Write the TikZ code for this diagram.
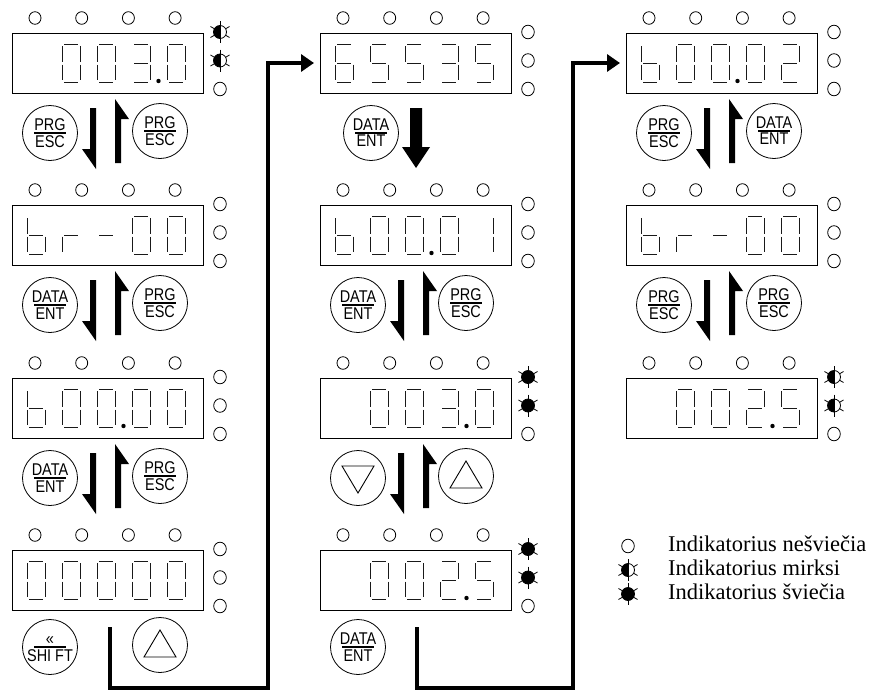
\documentclass[tikz,border=0pt]{standalone}
\usepackage{fontspec}
\setmainfont{Liberation Serif}
\setsansfont{Liberation Sans}
\usepackage{graphicx}
\usetikzlibrary{arrows.meta,positioning}

\tikzset{
  disp/.style={draw,line width=1pt,minimum width=191pt,minimum height=60pt,inner sep=0pt,outer sep=0pt},
  segline/.style={line width=1pt,black!90},
  ind/.style={line width=0.8pt},
  ray/.style={line width=0.8pt},
  btn/.style={circle,draw,line width=0.8pt,minimum size=55pt,inner sep=0pt},
  keytxt/.style={font=\sffamily\fontsize{17}{17}\selectfont,inner sep=0.6pt},
  keybar/.style={line width=1.2pt},
  tri/.style={line width=0.9pt},
  link/.style={line width=4.5pt,line join=miter,-{Triangle[length=13pt,width=17pt]},shorten >=6pt},
  legtxt/.style={font=\fontsize{22.5}{24}\selectfont,inner sep=0pt},
}

% seven segments of one digit (18 x 38)
\def\sega{(2,0) -- (16,0)}
\def\segb{(18,2) -- (18,17.5)}
\def\segc{(18,20.5) -- (18,36)}
\def\segd{(2,38) -- (16,38)}
\def\sege{(0,20.5) -- (0,36)}
\def\segf{(0,2) -- (0,17.5)}
\def\segg{(2,19) -- (16,19)}
\def\segn{(0,0)}
\expandafter\def\csname ss0\endcsname{a,b,c,d,e,f}
\expandafter\def\csname ss1\endcsname{b,c}
\expandafter\def\csname ss2\endcsname{a,b,d,e,g}
\expandafter\def\csname ss3\endcsname{a,b,c,d,g}
\expandafter\def\csname ss5\endcsname{a,c,d,f,g}
\expandafter\def\csname ss6\endcsname{a,c,d,e,f,g}
\expandafter\def\csname ssb\endcsname{c,d,e,f,g}
\expandafter\def\csname ssr\endcsname{e,g}
\expandafter\def\csname ssm\endcsname{g}
\expandafter\def\csname ssx\endcsname{n}

\newcommand\digitat[3]{%
  \begin{scope}[shift={(#1,#2)}]
    \expandafter\let\expandafter\seglist\csname ss#3\endcsname
    \foreach \s in \seglist {%
      \expandafter\let\expandafter\cur\csname seg\s\endcsname
      \draw[segline] \cur;}
  \end{scope}}

% indicator: 0 off, 1 blinking, 2 on
\newcommand\ledrays[2]{%
  \draw[ray] (#1,#2-11) -- (#1,#2+11);
  \foreach \a in {30,150,210,330}
    \draw[ray] (#1,#2) ++(\a:6.5) -- ++(\a:4.5);}
\newcommand\led[3]{%
  \ifcase#3\relax
    \draw[ind] (#1,#2) ellipse[x radius=6.3,y radius=6.8];
  \or
    \ledrays{#1}{#2}%
    \fill (#1,#2+6.5) arc[start angle=90,end angle=270,radius=6.5] -- cycle;
    \draw[ind] (#1,#2) circle[radius=6.5];
  \or
    \ledrays{#1}{#2}%
    \filldraw[ind] (#1,#2) circle[radius=6.5];
  \fi}

% display: name, X, Y, digits, dot after digit, indicators
\newcommand\panel[6]{%
  \node[disp] (#1) at (#2+95.5,#3+30) {};
  \foreach \i in {0,...,3}
    \draw[ind] (#2+23+46.7*\i,#3-15) ellipse[x radius=6,y radius=6.3];
  \foreach \ch [count=\i from 0] in {#4}
    {\digitat{#2+15+35*\i}{#3+11}{\ch}}
  \ifnum#5>0 \fill (#2+15+35*#5-8.5,#3+48) circle[radius=2.2]; \fi
  \foreach \st [count=\j from 0] in {#6}
    {\led{#2+208}{#3-1+28.5*\j}{\st}}}

% keys
\newcommand\key[5]{%
  \node[btn] (#1) at (#2,#3) {};
  \node[keytxt,anchor=south] at ([yshift=1.5pt]#1.center) {\scalebox{0.85}[1]{#4}};
  \draw[keybar] ([xshift=-16pt]#1.center) -- ([xshift=16pt]#1.center);
  \node[keytxt,anchor=north] at ([yshift=-1.5pt]#1.center) {\scalebox{0.85}[1]{#5}};}
\newcommand\trikey[4]{%
  \node[btn] (#1) at (#2,#3) {};
  \draw[tri] ([yshift=#4*15pt]#1.center) -- ++(16,#4*27) -- ++(-32,0) -- cycle;}

% half arrows
\newcommand\arrdn[3]{%
  \fill (#1-6,#2) -- (#1,#2) -- (#1,#3) -- (#1-14,#3-20) -- (#1-6,#3-20) -- cycle;}
\newcommand\arrup[3]{%
  \fill (#1,#2) -- (#1+14,#2+20) -- (#1+6,#2+20) -- (#1+6,#3) -- (#1,#3) -- cycle;}

\begin{document}
\begin{tikzpicture}[x=1pt,y=-1pt]
  \useasboundingbox (0,0) rectangle (873,691);
  % first column
  \panel{d11}{12}{33}{x,0,0,3,0}{4}{1,1,0}
  \panel{d12}{12}{205}{b,r,m,0,0}{0}{0,0,0}
  \panel{d13}{12}{378}{b,0,0,0,0}{3}{0,0,0}
  \panel{d14}{12}{550}{0,0,0,0,0}{0}{0,0,0}
  \key{k11}{50}{133}{PRG}{ESC}
  \key{k12}{160}{131}{PRG}{ESC}
  \arrdn{96}{108}{169} \arrup{115}{99}{163}
  \key{k13}{50}{305}{DATA}{ENT}
  \key{k14}{160}{303}{PRG}{ESC}
  \arrdn{96}{280}{341} \arrup{115}{271}{335}
  \key{k15}{50}{478}{DATA}{ENT}
  \key{k16}{160}{476}{PRG}{ESC}
  \arrdn{96}{453}{514} \arrup{115}{444}{508}
  \key{k17}{50}{647}{«}{SHI FT}
  \trikey{k18}{160}{645}{1}
  % second column
  \panel{d21}{320}{33}{6,5,5,3,5}{0}{0,0,0}
  \panel{d22}{320}{205}{b,0,0,0,1}{3}{0,0,0}
  \panel{d23}{320}{378}{x,0,0,3,0}{4}{2,2,0}
  \panel{d24}{320}{550}{x,0,0,2,5}{4}{2,2,0}
  \key{k21}{371}{133}{DATA}{ENT}
  \fill (410,108) -- (422,108) -- (422,147) -- (430,147) -- (416,168)
    -- (402,147) -- (410,147) -- cycle;
  \key{k22}{358}{305}{DATA}{ENT}
  \key{k23}{466}{303}{PRG}{ESC}
  \arrdn{404}{280}{341} \arrup{423}{271}{335}
  \trikey{k24}{358}{478}{-1}
  \trikey{k25}{466}{476}{1}
  \arrdn{404}{453}{514} \arrup{423}{444}{508}
  \key{k26}{358}{647}{DATA}{ENT}
  % third column
  \panel{d31}{626}{33}{b,0,0,0,2}{3}{0,0,0}
  \panel{d32}{626}{205}{b,r,m,0,0}{0}{0,0,0}
  \panel{d33}{626}{378}{x,0,0,2,5}{4}{1,1,0}
  \key{k31}{664}{133}{PRG}{ESC}
  \key{k32}{774}{131}{DATA}{ENT}
  \arrdn{710}{108}{169} \arrup{729}{99}{163}
  \key{k33}{664}{305}{PRG}{ESC}
  \key{k34}{774}{303}{PRG}{ESC}
  \arrdn{710}{280}{341} \arrup{729}{271}{335}
  % links between columns
  \coordinate (s1) at (110,627);
  \coordinate (t1) at (268,688);
  \draw[link] (s1) |- (t1) |- (d21.west);
  \coordinate (s2) at (417,627);
  \coordinate (t2) at (573,688);
  \draw[link] (s2) |- (t2) |- (d31.west);
  % legend
  \led{628}{546}{0}
  \node[legtxt,anchor=west] (lg1) at (668,544) {Indikatorius nešviečia};
  \led{628}{570}{1}
  \node[legtxt,anchor=west] (lg2) at (668,568) {Indikatorius mirksi};
  \led{628}{594}{2}
  \node[legtxt,anchor=west] (lg3) at (668,592) {Indikatorius šviečia};
\end{tikzpicture}
\end{document}
